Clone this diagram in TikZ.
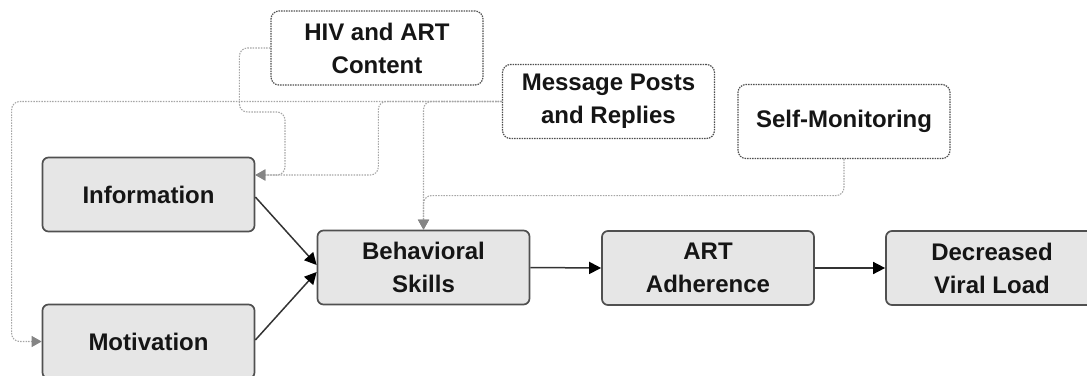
\documentclass[tikz,border=0pt]{standalone}
\usepackage{fontspec}
\setmainfont{Liberation Sans}
\usetikzlibrary{arrows.meta,calc}
\definecolor{boxfill}{HTML}{E6E6E6}
\definecolor{boxline}{HTML}{505050}
\definecolor{inkdark}{HTML}{151515}
\definecolor{connline}{HTML}{A6A6A6}
\definecolor{connhead}{HTML}{858585}
\definecolor{notedraw}{HTML}{505050}
\definecolor{linkline}{HTML}{333333}

\begin{document}
\begin{tikzpicture}[x=1pt,y=-1pt,
  font=\fontsize{24}{33}\selectfont\bfseries,
  construct/.style={draw=boxline, line width=1.7pt, fill=boxfill,
    rounded corners=6pt, minimum width=212pt, minimum height=74pt,
    align=center, text=inkdark, inner sep=0pt},
  feature/.style={draw=notedraw, line width=1.2pt,
    dash pattern=on 1.5pt off 1pt, fill=white, rounded corners=8pt,
    minimum width=212pt, minimum height=74pt,
    align=center, text=inkdark, inner sep=0pt},
  conn/.style={draw=connline, line width=1.1pt,
    dash pattern=on 1.5pt off 1.2pt, rounded corners=8pt,
    -{Triangle[length=10pt,width=11pt,color=connhead,fill=connhead]}},
  link/.style={draw=linkline, line width=1.5pt,
    -{Triangle[length=12pt,width=12pt,color=black,fill=black]}},
]
\clip (0,0) rectangle (1087,375);

% intervention features
\node[feature] (hiv)  at (377,48)    {HIV and ART\\Content};
\node[feature] (msg)  at (608.5,101.5) {Message Posts\\and Replies};
\node[feature] (self) at (844,121.5) {Self-Monitoring};

% model constructs
\node[construct] (info)  at (148.5,194.5) {Information};
\node[construct] (motiv) at (148.5,341.5) {Motivation};
\node[construct] (beh)   at (423.5,267.5) {Behavioral\\Skills};
\node[construct] (art)   at (708,268)     {ART\\Adherence};
\node[construct] (dec)   at (992,268)     {Decreased\\Viral Load};

% entry point on the information box and routing bends
\coordinate (infoin) at ([yshift=19.5pt]info.east);
\coordinate (hivbend) at (285,112);

% feature connectors
\draw[conn] (hiv.west) -- ++(-31,0) |- (hivbend) |- (infoin);
\draw[conn] (msg.west) -| ([xshift=-30pt]motiv.west) -- (motiv.west);
\draw[conn] (msg.west) -| ($(infoin)+(123,0)$) -- (infoin);
\draw[conn] (msg.west) -| (beh.north);
\draw[conn] (self.south) -- ++(0,36.5) -| (beh.north);

% causal paths
\draw[link] ([yshift=-2.5pt]info.east) -- ([yshift=2.5pt]beh.west);
\draw[link] ([yshift=1.5pt]motiv.east) -- ([yshift=-4.5pt]beh.west);
\draw[link] (beh.east) -- (art.west);
\draw[link] (art.east) -- (dec.west);
\end{tikzpicture}
\end{document}
